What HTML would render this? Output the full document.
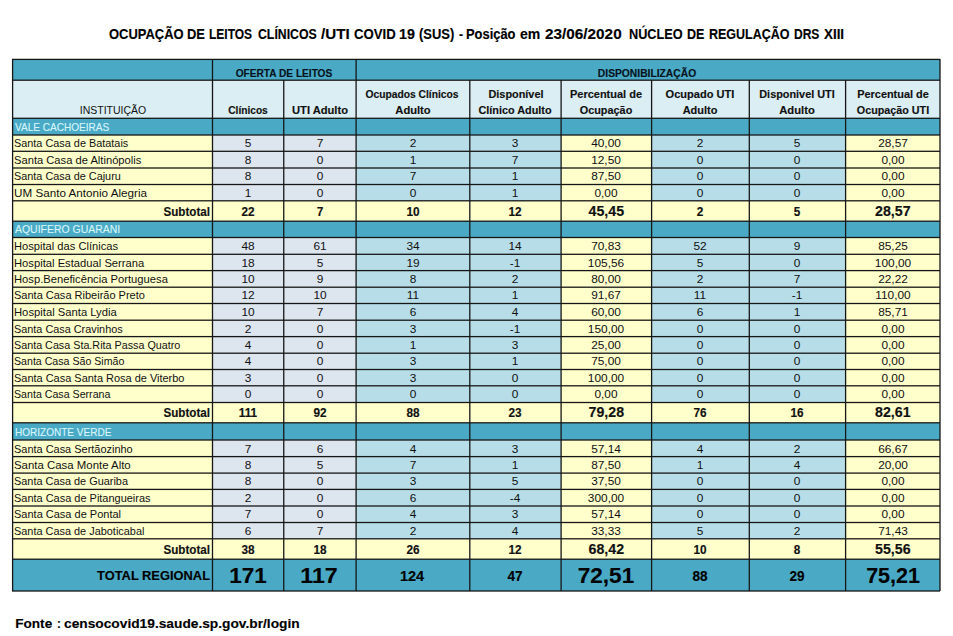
<!DOCTYPE html>
<html><head><meta charset="utf-8"><style>
html,body{margin:0;padding:0;background:#fff;width:953px;height:636px;overflow:hidden}
#c{position:relative;width:953px;height:636px}
#c div{position:absolute}
.t{font-family:"Liberation Sans", sans-serif;white-space:nowrap;line-height:normal}
</style></head><body><div id="c">
<div style="left:12.60px;top:59.40px;width:927.40px;height:20.80px;background:#4aaac5"></div>
<div style="left:12.60px;top:80.20px;width:927.40px;height:38.10px;background:#dbeef4"></div>
<div style="left:12.60px;top:118.30px;width:927.40px;height:16.70px;background:#4aaac5"></div>
<div style="left:12.60px;top:135.00px;width:199.90px;height:16.30px;background:#ffffcc"></div>
<div style="left:212.50px;top:135.00px;width:71.25px;height:16.30px;background:#dde5ef"></div>
<div style="left:283.75px;top:135.00px;width:72.35px;height:16.30px;background:#dde5ef"></div>
<div style="left:356.10px;top:135.00px;width:113.70px;height:16.30px;background:#b7dee8"></div>
<div style="left:469.80px;top:135.00px;width:91.30px;height:16.30px;background:#b7dee8"></div>
<div style="left:561.10px;top:135.00px;width:90.50px;height:16.30px;background:#ffffcc"></div>
<div style="left:651.60px;top:135.00px;width:97.70px;height:16.30px;background:#b7dee8"></div>
<div style="left:749.30px;top:135.00px;width:96.30px;height:16.30px;background:#b7dee8"></div>
<div style="left:845.60px;top:135.00px;width:94.40px;height:16.30px;background:#ffffcc"></div>
<div style="left:12.60px;top:151.30px;width:199.90px;height:16.70px;background:#ffffcc"></div>
<div style="left:212.50px;top:151.30px;width:71.25px;height:16.70px;background:#dde5ef"></div>
<div style="left:283.75px;top:151.30px;width:72.35px;height:16.70px;background:#dde5ef"></div>
<div style="left:356.10px;top:151.30px;width:113.70px;height:16.70px;background:#b7dee8"></div>
<div style="left:469.80px;top:151.30px;width:91.30px;height:16.70px;background:#b7dee8"></div>
<div style="left:561.10px;top:151.30px;width:90.50px;height:16.70px;background:#ffffcc"></div>
<div style="left:651.60px;top:151.30px;width:97.70px;height:16.70px;background:#b7dee8"></div>
<div style="left:749.30px;top:151.30px;width:96.30px;height:16.70px;background:#b7dee8"></div>
<div style="left:845.60px;top:151.30px;width:94.40px;height:16.70px;background:#ffffcc"></div>
<div style="left:12.60px;top:168.00px;width:199.90px;height:16.50px;background:#ffffcc"></div>
<div style="left:212.50px;top:168.00px;width:71.25px;height:16.50px;background:#dde5ef"></div>
<div style="left:283.75px;top:168.00px;width:72.35px;height:16.50px;background:#dde5ef"></div>
<div style="left:356.10px;top:168.00px;width:113.70px;height:16.50px;background:#b7dee8"></div>
<div style="left:469.80px;top:168.00px;width:91.30px;height:16.50px;background:#b7dee8"></div>
<div style="left:561.10px;top:168.00px;width:90.50px;height:16.50px;background:#ffffcc"></div>
<div style="left:651.60px;top:168.00px;width:97.70px;height:16.50px;background:#b7dee8"></div>
<div style="left:749.30px;top:168.00px;width:96.30px;height:16.50px;background:#b7dee8"></div>
<div style="left:845.60px;top:168.00px;width:94.40px;height:16.50px;background:#ffffcc"></div>
<div style="left:12.60px;top:184.50px;width:199.90px;height:16.30px;background:#ffffcc"></div>
<div style="left:212.50px;top:184.50px;width:71.25px;height:16.30px;background:#dde5ef"></div>
<div style="left:283.75px;top:184.50px;width:72.35px;height:16.30px;background:#dde5ef"></div>
<div style="left:356.10px;top:184.50px;width:113.70px;height:16.30px;background:#b7dee8"></div>
<div style="left:469.80px;top:184.50px;width:91.30px;height:16.30px;background:#b7dee8"></div>
<div style="left:561.10px;top:184.50px;width:90.50px;height:16.30px;background:#ffffcc"></div>
<div style="left:651.60px;top:184.50px;width:97.70px;height:16.30px;background:#b7dee8"></div>
<div style="left:749.30px;top:184.50px;width:96.30px;height:16.30px;background:#b7dee8"></div>
<div style="left:845.60px;top:184.50px;width:94.40px;height:16.30px;background:#ffffcc"></div>
<div style="left:12.60px;top:200.80px;width:927.40px;height:20.40px;background:#ffffcc"></div>
<div style="left:12.60px;top:221.20px;width:927.40px;height:16.30px;background:#4aaac5"></div>
<div style="left:12.60px;top:237.50px;width:199.90px;height:16.80px;background:#ffffcc"></div>
<div style="left:212.50px;top:237.50px;width:71.25px;height:16.80px;background:#dde5ef"></div>
<div style="left:283.75px;top:237.50px;width:72.35px;height:16.80px;background:#dde5ef"></div>
<div style="left:356.10px;top:237.50px;width:113.70px;height:16.80px;background:#b7dee8"></div>
<div style="left:469.80px;top:237.50px;width:91.30px;height:16.80px;background:#b7dee8"></div>
<div style="left:561.10px;top:237.50px;width:90.50px;height:16.80px;background:#ffffcc"></div>
<div style="left:651.60px;top:237.50px;width:97.70px;height:16.80px;background:#b7dee8"></div>
<div style="left:749.30px;top:237.50px;width:96.30px;height:16.80px;background:#b7dee8"></div>
<div style="left:845.60px;top:237.50px;width:94.40px;height:16.80px;background:#ffffcc"></div>
<div style="left:12.60px;top:254.30px;width:199.90px;height:16.30px;background:#ffffcc"></div>
<div style="left:212.50px;top:254.30px;width:71.25px;height:16.30px;background:#dde5ef"></div>
<div style="left:283.75px;top:254.30px;width:72.35px;height:16.30px;background:#dde5ef"></div>
<div style="left:356.10px;top:254.30px;width:113.70px;height:16.30px;background:#b7dee8"></div>
<div style="left:469.80px;top:254.30px;width:91.30px;height:16.30px;background:#b7dee8"></div>
<div style="left:561.10px;top:254.30px;width:90.50px;height:16.30px;background:#ffffcc"></div>
<div style="left:651.60px;top:254.30px;width:97.70px;height:16.30px;background:#b7dee8"></div>
<div style="left:749.30px;top:254.30px;width:96.30px;height:16.30px;background:#b7dee8"></div>
<div style="left:845.60px;top:254.30px;width:94.40px;height:16.30px;background:#ffffcc"></div>
<div style="left:12.60px;top:270.60px;width:199.90px;height:16.60px;background:#ffffcc"></div>
<div style="left:212.50px;top:270.60px;width:71.25px;height:16.60px;background:#dde5ef"></div>
<div style="left:283.75px;top:270.60px;width:72.35px;height:16.60px;background:#dde5ef"></div>
<div style="left:356.10px;top:270.60px;width:113.70px;height:16.60px;background:#b7dee8"></div>
<div style="left:469.80px;top:270.60px;width:91.30px;height:16.60px;background:#b7dee8"></div>
<div style="left:561.10px;top:270.60px;width:90.50px;height:16.60px;background:#ffffcc"></div>
<div style="left:651.60px;top:270.60px;width:97.70px;height:16.60px;background:#b7dee8"></div>
<div style="left:749.30px;top:270.60px;width:96.30px;height:16.60px;background:#b7dee8"></div>
<div style="left:845.60px;top:270.60px;width:94.40px;height:16.60px;background:#ffffcc"></div>
<div style="left:12.60px;top:287.20px;width:199.90px;height:16.30px;background:#ffffcc"></div>
<div style="left:212.50px;top:287.20px;width:71.25px;height:16.30px;background:#dde5ef"></div>
<div style="left:283.75px;top:287.20px;width:72.35px;height:16.30px;background:#dde5ef"></div>
<div style="left:356.10px;top:287.20px;width:113.70px;height:16.30px;background:#b7dee8"></div>
<div style="left:469.80px;top:287.20px;width:91.30px;height:16.30px;background:#b7dee8"></div>
<div style="left:561.10px;top:287.20px;width:90.50px;height:16.30px;background:#ffffcc"></div>
<div style="left:651.60px;top:287.20px;width:97.70px;height:16.30px;background:#b7dee8"></div>
<div style="left:749.30px;top:287.20px;width:96.30px;height:16.30px;background:#b7dee8"></div>
<div style="left:845.60px;top:287.20px;width:94.40px;height:16.30px;background:#ffffcc"></div>
<div style="left:12.60px;top:303.50px;width:199.90px;height:16.70px;background:#ffffcc"></div>
<div style="left:212.50px;top:303.50px;width:71.25px;height:16.70px;background:#dde5ef"></div>
<div style="left:283.75px;top:303.50px;width:72.35px;height:16.70px;background:#dde5ef"></div>
<div style="left:356.10px;top:303.50px;width:113.70px;height:16.70px;background:#b7dee8"></div>
<div style="left:469.80px;top:303.50px;width:91.30px;height:16.70px;background:#b7dee8"></div>
<div style="left:561.10px;top:303.50px;width:90.50px;height:16.70px;background:#ffffcc"></div>
<div style="left:651.60px;top:303.50px;width:97.70px;height:16.70px;background:#b7dee8"></div>
<div style="left:749.30px;top:303.50px;width:96.30px;height:16.70px;background:#b7dee8"></div>
<div style="left:845.60px;top:303.50px;width:94.40px;height:16.70px;background:#ffffcc"></div>
<div style="left:12.60px;top:320.20px;width:199.90px;height:16.40px;background:#ffffcc"></div>
<div style="left:212.50px;top:320.20px;width:71.25px;height:16.40px;background:#dde5ef"></div>
<div style="left:283.75px;top:320.20px;width:72.35px;height:16.40px;background:#dde5ef"></div>
<div style="left:356.10px;top:320.20px;width:113.70px;height:16.40px;background:#b7dee8"></div>
<div style="left:469.80px;top:320.20px;width:91.30px;height:16.40px;background:#b7dee8"></div>
<div style="left:561.10px;top:320.20px;width:90.50px;height:16.40px;background:#ffffcc"></div>
<div style="left:651.60px;top:320.20px;width:97.70px;height:16.40px;background:#b7dee8"></div>
<div style="left:749.30px;top:320.20px;width:96.30px;height:16.40px;background:#b7dee8"></div>
<div style="left:845.60px;top:320.20px;width:94.40px;height:16.40px;background:#ffffcc"></div>
<div style="left:12.60px;top:336.60px;width:199.90px;height:16.60px;background:#ffffcc"></div>
<div style="left:212.50px;top:336.60px;width:71.25px;height:16.60px;background:#dde5ef"></div>
<div style="left:283.75px;top:336.60px;width:72.35px;height:16.60px;background:#dde5ef"></div>
<div style="left:356.10px;top:336.60px;width:113.70px;height:16.60px;background:#b7dee8"></div>
<div style="left:469.80px;top:336.60px;width:91.30px;height:16.60px;background:#b7dee8"></div>
<div style="left:561.10px;top:336.60px;width:90.50px;height:16.60px;background:#ffffcc"></div>
<div style="left:651.60px;top:336.60px;width:97.70px;height:16.60px;background:#b7dee8"></div>
<div style="left:749.30px;top:336.60px;width:96.30px;height:16.60px;background:#b7dee8"></div>
<div style="left:845.60px;top:336.60px;width:94.40px;height:16.60px;background:#ffffcc"></div>
<div style="left:12.60px;top:353.20px;width:199.90px;height:16.30px;background:#ffffcc"></div>
<div style="left:212.50px;top:353.20px;width:71.25px;height:16.30px;background:#dde5ef"></div>
<div style="left:283.75px;top:353.20px;width:72.35px;height:16.30px;background:#dde5ef"></div>
<div style="left:356.10px;top:353.20px;width:113.70px;height:16.30px;background:#b7dee8"></div>
<div style="left:469.80px;top:353.20px;width:91.30px;height:16.30px;background:#b7dee8"></div>
<div style="left:561.10px;top:353.20px;width:90.50px;height:16.30px;background:#ffffcc"></div>
<div style="left:651.60px;top:353.20px;width:97.70px;height:16.30px;background:#b7dee8"></div>
<div style="left:749.30px;top:353.20px;width:96.30px;height:16.30px;background:#b7dee8"></div>
<div style="left:845.60px;top:353.20px;width:94.40px;height:16.30px;background:#ffffcc"></div>
<div style="left:12.60px;top:369.50px;width:199.90px;height:16.30px;background:#ffffcc"></div>
<div style="left:212.50px;top:369.50px;width:71.25px;height:16.30px;background:#dde5ef"></div>
<div style="left:283.75px;top:369.50px;width:72.35px;height:16.30px;background:#dde5ef"></div>
<div style="left:356.10px;top:369.50px;width:113.70px;height:16.30px;background:#b7dee8"></div>
<div style="left:469.80px;top:369.50px;width:91.30px;height:16.30px;background:#b7dee8"></div>
<div style="left:561.10px;top:369.50px;width:90.50px;height:16.30px;background:#ffffcc"></div>
<div style="left:651.60px;top:369.50px;width:97.70px;height:16.30px;background:#b7dee8"></div>
<div style="left:749.30px;top:369.50px;width:96.30px;height:16.30px;background:#b7dee8"></div>
<div style="left:845.60px;top:369.50px;width:94.40px;height:16.30px;background:#ffffcc"></div>
<div style="left:12.60px;top:385.80px;width:199.90px;height:16.70px;background:#ffffcc"></div>
<div style="left:212.50px;top:385.80px;width:71.25px;height:16.70px;background:#dde5ef"></div>
<div style="left:283.75px;top:385.80px;width:72.35px;height:16.70px;background:#dde5ef"></div>
<div style="left:356.10px;top:385.80px;width:113.70px;height:16.70px;background:#b7dee8"></div>
<div style="left:469.80px;top:385.80px;width:91.30px;height:16.70px;background:#b7dee8"></div>
<div style="left:561.10px;top:385.80px;width:90.50px;height:16.70px;background:#ffffcc"></div>
<div style="left:651.60px;top:385.80px;width:97.70px;height:16.70px;background:#b7dee8"></div>
<div style="left:749.30px;top:385.80px;width:96.30px;height:16.70px;background:#b7dee8"></div>
<div style="left:845.60px;top:385.80px;width:94.40px;height:16.70px;background:#ffffcc"></div>
<div style="left:12.60px;top:402.50px;width:927.40px;height:20.30px;background:#ffffcc"></div>
<div style="left:12.60px;top:422.80px;width:927.40px;height:17.20px;background:#4aaac5"></div>
<div style="left:12.60px;top:440.00px;width:199.90px;height:16.60px;background:#ffffcc"></div>
<div style="left:212.50px;top:440.00px;width:71.25px;height:16.60px;background:#dde5ef"></div>
<div style="left:283.75px;top:440.00px;width:72.35px;height:16.60px;background:#dde5ef"></div>
<div style="left:356.10px;top:440.00px;width:113.70px;height:16.60px;background:#b7dee8"></div>
<div style="left:469.80px;top:440.00px;width:91.30px;height:16.60px;background:#b7dee8"></div>
<div style="left:561.10px;top:440.00px;width:90.50px;height:16.60px;background:#ffffcc"></div>
<div style="left:651.60px;top:440.00px;width:97.70px;height:16.60px;background:#b7dee8"></div>
<div style="left:749.30px;top:440.00px;width:96.30px;height:16.60px;background:#b7dee8"></div>
<div style="left:845.60px;top:440.00px;width:94.40px;height:16.60px;background:#ffffcc"></div>
<div style="left:12.60px;top:456.60px;width:199.90px;height:16.50px;background:#ffffcc"></div>
<div style="left:212.50px;top:456.60px;width:71.25px;height:16.50px;background:#dde5ef"></div>
<div style="left:283.75px;top:456.60px;width:72.35px;height:16.50px;background:#dde5ef"></div>
<div style="left:356.10px;top:456.60px;width:113.70px;height:16.50px;background:#b7dee8"></div>
<div style="left:469.80px;top:456.60px;width:91.30px;height:16.50px;background:#b7dee8"></div>
<div style="left:561.10px;top:456.60px;width:90.50px;height:16.50px;background:#ffffcc"></div>
<div style="left:651.60px;top:456.60px;width:97.70px;height:16.50px;background:#b7dee8"></div>
<div style="left:749.30px;top:456.60px;width:96.30px;height:16.50px;background:#b7dee8"></div>
<div style="left:845.60px;top:456.60px;width:94.40px;height:16.50px;background:#ffffcc"></div>
<div style="left:12.60px;top:473.10px;width:199.90px;height:16.30px;background:#ffffcc"></div>
<div style="left:212.50px;top:473.10px;width:71.25px;height:16.30px;background:#dde5ef"></div>
<div style="left:283.75px;top:473.10px;width:72.35px;height:16.30px;background:#dde5ef"></div>
<div style="left:356.10px;top:473.10px;width:113.70px;height:16.30px;background:#b7dee8"></div>
<div style="left:469.80px;top:473.10px;width:91.30px;height:16.30px;background:#b7dee8"></div>
<div style="left:561.10px;top:473.10px;width:90.50px;height:16.30px;background:#ffffcc"></div>
<div style="left:651.60px;top:473.10px;width:97.70px;height:16.30px;background:#b7dee8"></div>
<div style="left:749.30px;top:473.10px;width:96.30px;height:16.30px;background:#b7dee8"></div>
<div style="left:845.60px;top:473.10px;width:94.40px;height:16.30px;background:#ffffcc"></div>
<div style="left:12.60px;top:489.40px;width:199.90px;height:16.60px;background:#ffffcc"></div>
<div style="left:212.50px;top:489.40px;width:71.25px;height:16.60px;background:#dde5ef"></div>
<div style="left:283.75px;top:489.40px;width:72.35px;height:16.60px;background:#dde5ef"></div>
<div style="left:356.10px;top:489.40px;width:113.70px;height:16.60px;background:#b7dee8"></div>
<div style="left:469.80px;top:489.40px;width:91.30px;height:16.60px;background:#b7dee8"></div>
<div style="left:561.10px;top:489.40px;width:90.50px;height:16.60px;background:#ffffcc"></div>
<div style="left:651.60px;top:489.40px;width:97.70px;height:16.60px;background:#b7dee8"></div>
<div style="left:749.30px;top:489.40px;width:96.30px;height:16.60px;background:#b7dee8"></div>
<div style="left:845.60px;top:489.40px;width:94.40px;height:16.60px;background:#ffffcc"></div>
<div style="left:12.60px;top:506.00px;width:199.90px;height:16.50px;background:#ffffcc"></div>
<div style="left:212.50px;top:506.00px;width:71.25px;height:16.50px;background:#dde5ef"></div>
<div style="left:283.75px;top:506.00px;width:72.35px;height:16.50px;background:#dde5ef"></div>
<div style="left:356.10px;top:506.00px;width:113.70px;height:16.50px;background:#b7dee8"></div>
<div style="left:469.80px;top:506.00px;width:91.30px;height:16.50px;background:#b7dee8"></div>
<div style="left:561.10px;top:506.00px;width:90.50px;height:16.50px;background:#ffffcc"></div>
<div style="left:651.60px;top:506.00px;width:97.70px;height:16.50px;background:#b7dee8"></div>
<div style="left:749.30px;top:506.00px;width:96.30px;height:16.50px;background:#b7dee8"></div>
<div style="left:845.60px;top:506.00px;width:94.40px;height:16.50px;background:#ffffcc"></div>
<div style="left:12.60px;top:522.50px;width:199.90px;height:16.30px;background:#ffffcc"></div>
<div style="left:212.50px;top:522.50px;width:71.25px;height:16.30px;background:#dde5ef"></div>
<div style="left:283.75px;top:522.50px;width:72.35px;height:16.30px;background:#dde5ef"></div>
<div style="left:356.10px;top:522.50px;width:113.70px;height:16.30px;background:#b7dee8"></div>
<div style="left:469.80px;top:522.50px;width:91.30px;height:16.30px;background:#b7dee8"></div>
<div style="left:561.10px;top:522.50px;width:90.50px;height:16.30px;background:#ffffcc"></div>
<div style="left:651.60px;top:522.50px;width:97.70px;height:16.30px;background:#b7dee8"></div>
<div style="left:749.30px;top:522.50px;width:96.30px;height:16.30px;background:#b7dee8"></div>
<div style="left:845.60px;top:522.50px;width:94.40px;height:16.30px;background:#ffffcc"></div>
<div style="left:12.60px;top:538.80px;width:927.40px;height:20.40px;background:#ffffcc"></div>
<div style="left:12.60px;top:559.20px;width:927.40px;height:31.80px;background:#4aaac5"></div>
<div style="left:12.10px;top:58px;width:928.40px;height:1px;background:rgba(22,22,22,0.250)"></div>
<div style="left:12.10px;top:59px;width:928.40px;height:1px;background:rgba(22,22,22,1.000)"></div>
<div style="left:12.10px;top:60px;width:928.40px;height:1px;background:rgba(22,22,22,0.050)"></div>
<div style="left:12.10px;top:79px;width:928.40px;height:1px;background:rgba(22,22,22,0.450)"></div>
<div style="left:12.10px;top:80px;width:928.40px;height:1px;background:rgba(22,22,22,0.850)"></div>
<div style="left:12.10px;top:117px;width:928.40px;height:1px;background:rgba(22,22,22,0.350)"></div>
<div style="left:12.10px;top:118px;width:928.40px;height:1px;background:rgba(22,22,22,0.950)"></div>
<div style="left:12.10px;top:134px;width:928.40px;height:1px;background:rgba(22,22,22,0.650)"></div>
<div style="left:12.10px;top:135px;width:928.40px;height:1px;background:rgba(22,22,22,0.650)"></div>
<div style="left:12.10px;top:150px;width:928.40px;height:1px;background:rgba(22,22,22,0.350)"></div>
<div style="left:12.10px;top:151px;width:928.40px;height:1px;background:rgba(22,22,22,0.950)"></div>
<div style="left:12.10px;top:167px;width:928.40px;height:1px;background:rgba(22,22,22,0.650)"></div>
<div style="left:12.10px;top:168px;width:928.40px;height:1px;background:rgba(22,22,22,0.650)"></div>
<div style="left:12.10px;top:183px;width:928.40px;height:1px;background:rgba(22,22,22,0.150)"></div>
<div style="left:12.10px;top:184px;width:928.40px;height:1px;background:rgba(22,22,22,1.000)"></div>
<div style="left:12.10px;top:185px;width:928.40px;height:1px;background:rgba(22,22,22,0.150)"></div>
<div style="left:12.10px;top:200px;width:928.40px;height:1px;background:rgba(22,22,22,0.850)"></div>
<div style="left:12.10px;top:201px;width:928.40px;height:1px;background:rgba(22,22,22,0.450)"></div>
<div style="left:12.10px;top:220px;width:928.40px;height:1px;background:rgba(22,22,22,0.450)"></div>
<div style="left:12.10px;top:221px;width:928.40px;height:1px;background:rgba(22,22,22,0.850)"></div>
<div style="left:12.10px;top:236px;width:928.40px;height:1px;background:rgba(22,22,22,0.150)"></div>
<div style="left:12.10px;top:237px;width:928.40px;height:1px;background:rgba(22,22,22,1.000)"></div>
<div style="left:12.10px;top:238px;width:928.40px;height:1px;background:rgba(22,22,22,0.150)"></div>
<div style="left:12.10px;top:253px;width:928.40px;height:1px;background:rgba(22,22,22,0.350)"></div>
<div style="left:12.10px;top:254px;width:928.40px;height:1px;background:rgba(22,22,22,0.950)"></div>
<div style="left:12.10px;top:269px;width:928.40px;height:1px;background:rgba(22,22,22,0.050)"></div>
<div style="left:12.10px;top:270px;width:928.40px;height:1px;background:rgba(22,22,22,1.000)"></div>
<div style="left:12.10px;top:271px;width:928.40px;height:1px;background:rgba(22,22,22,0.250)"></div>
<div style="left:12.10px;top:286px;width:928.40px;height:1px;background:rgba(22,22,22,0.450)"></div>
<div style="left:12.10px;top:287px;width:928.40px;height:1px;background:rgba(22,22,22,0.850)"></div>
<div style="left:12.10px;top:302px;width:928.40px;height:1px;background:rgba(22,22,22,0.150)"></div>
<div style="left:12.10px;top:303px;width:928.40px;height:1px;background:rgba(22,22,22,1.000)"></div>
<div style="left:12.10px;top:304px;width:928.40px;height:1px;background:rgba(22,22,22,0.150)"></div>
<div style="left:12.10px;top:319px;width:928.40px;height:1px;background:rgba(22,22,22,0.450)"></div>
<div style="left:12.10px;top:320px;width:928.40px;height:1px;background:rgba(22,22,22,0.850)"></div>
<div style="left:12.10px;top:335px;width:928.40px;height:1px;background:rgba(22,22,22,0.050)"></div>
<div style="left:12.10px;top:336px;width:928.40px;height:1px;background:rgba(22,22,22,1.000)"></div>
<div style="left:12.10px;top:337px;width:928.40px;height:1px;background:rgba(22,22,22,0.250)"></div>
<div style="left:12.10px;top:352px;width:928.40px;height:1px;background:rgba(22,22,22,0.450)"></div>
<div style="left:12.10px;top:353px;width:928.40px;height:1px;background:rgba(22,22,22,0.850)"></div>
<div style="left:12.10px;top:368px;width:928.40px;height:1px;background:rgba(22,22,22,0.150)"></div>
<div style="left:12.10px;top:369px;width:928.40px;height:1px;background:rgba(22,22,22,1.000)"></div>
<div style="left:12.10px;top:370px;width:928.40px;height:1px;background:rgba(22,22,22,0.150)"></div>
<div style="left:12.10px;top:385px;width:928.40px;height:1px;background:rgba(22,22,22,0.850)"></div>
<div style="left:12.10px;top:386px;width:928.40px;height:1px;background:rgba(22,22,22,0.450)"></div>
<div style="left:12.10px;top:401px;width:928.40px;height:1px;background:rgba(22,22,22,0.150)"></div>
<div style="left:12.10px;top:402px;width:928.40px;height:1px;background:rgba(22,22,22,1.000)"></div>
<div style="left:12.10px;top:403px;width:928.40px;height:1px;background:rgba(22,22,22,0.150)"></div>
<div style="left:12.10px;top:422px;width:928.40px;height:1px;background:rgba(22,22,22,0.850)"></div>
<div style="left:12.10px;top:423px;width:928.40px;height:1px;background:rgba(22,22,22,0.450)"></div>
<div style="left:12.10px;top:439px;width:928.40px;height:1px;background:rgba(22,22,22,0.650)"></div>
<div style="left:12.10px;top:440px;width:928.40px;height:1px;background:rgba(22,22,22,0.650)"></div>
<div style="left:12.10px;top:455px;width:928.40px;height:1px;background:rgba(22,22,22,0.050)"></div>
<div style="left:12.10px;top:456px;width:928.40px;height:1px;background:rgba(22,22,22,1.000)"></div>
<div style="left:12.10px;top:457px;width:928.40px;height:1px;background:rgba(22,22,22,0.250)"></div>
<div style="left:12.10px;top:472px;width:928.40px;height:1px;background:rgba(22,22,22,0.550)"></div>
<div style="left:12.10px;top:473px;width:928.40px;height:1px;background:rgba(22,22,22,0.750)"></div>
<div style="left:12.10px;top:488px;width:928.40px;height:1px;background:rgba(22,22,22,0.250)"></div>
<div style="left:12.10px;top:489px;width:928.40px;height:1px;background:rgba(22,22,22,1.000)"></div>
<div style="left:12.10px;top:490px;width:928.40px;height:1px;background:rgba(22,22,22,0.050)"></div>
<div style="left:12.10px;top:505px;width:928.40px;height:1px;background:rgba(22,22,22,0.650)"></div>
<div style="left:12.10px;top:506px;width:928.40px;height:1px;background:rgba(22,22,22,0.650)"></div>
<div style="left:12.10px;top:521px;width:928.40px;height:1px;background:rgba(22,22,22,0.150)"></div>
<div style="left:12.10px;top:522px;width:928.40px;height:1px;background:rgba(22,22,22,1.000)"></div>
<div style="left:12.10px;top:523px;width:928.40px;height:1px;background:rgba(22,22,22,0.150)"></div>
<div style="left:12.10px;top:538px;width:928.40px;height:1px;background:rgba(22,22,22,0.850)"></div>
<div style="left:12.10px;top:539px;width:928.40px;height:1px;background:rgba(22,22,22,0.450)"></div>
<div style="left:12.10px;top:558px;width:928.40px;height:1px;background:rgba(22,22,22,0.450)"></div>
<div style="left:12.10px;top:559px;width:928.40px;height:1px;background:rgba(22,22,22,0.850)"></div>
<div style="left:12.10px;top:590px;width:928.40px;height:1px;background:rgba(22,22,22,0.650)"></div>
<div style="left:12.10px;top:591px;width:928.40px;height:1px;background:rgba(22,22,22,0.650)"></div>
<div style="left:11px;top:58.90px;width:1px;height:532.60px;background:rgba(22,22,22,0.050)"></div>
<div style="left:12px;top:58.90px;width:1px;height:532.60px;background:rgba(22,22,22,1.000)"></div>
<div style="left:13px;top:58.90px;width:1px;height:532.60px;background:rgba(22,22,22,0.250)"></div>
<div style="left:211px;top:58.90px;width:1px;height:532.60px;background:rgba(22,22,22,0.150)"></div>
<div style="left:212px;top:58.90px;width:1px;height:532.60px;background:rgba(22,22,22,1.000)"></div>
<div style="left:213px;top:58.90px;width:1px;height:532.60px;background:rgba(22,22,22,0.150)"></div>
<div style="left:355px;top:58.90px;width:1px;height:532.60px;background:rgba(22,22,22,0.550)"></div>
<div style="left:356px;top:58.90px;width:1px;height:532.60px;background:rgba(22,22,22,0.750)"></div>
<div style="left:939px;top:58.90px;width:1px;height:532.60px;background:rgba(22,22,22,0.650)"></div>
<div style="left:940px;top:58.90px;width:1px;height:532.60px;background:rgba(22,22,22,0.650)"></div>
<div style="left:283px;top:79.70px;width:1px;height:511.80px;background:rgba(22,22,22,0.900)"></div>
<div style="left:284px;top:79.70px;width:1px;height:511.80px;background:rgba(22,22,22,0.400)"></div>
<div style="left:469px;top:79.70px;width:1px;height:511.80px;background:rgba(22,22,22,0.850)"></div>
<div style="left:470px;top:79.70px;width:1px;height:511.80px;background:rgba(22,22,22,0.450)"></div>
<div style="left:560px;top:79.70px;width:1px;height:511.80px;background:rgba(22,22,22,0.550)"></div>
<div style="left:561px;top:79.70px;width:1px;height:511.80px;background:rgba(22,22,22,0.750)"></div>
<div style="left:650px;top:79.70px;width:1px;height:511.80px;background:rgba(22,22,22,0.050)"></div>
<div style="left:651px;top:79.70px;width:1px;height:511.80px;background:rgba(22,22,22,1.000)"></div>
<div style="left:652px;top:79.70px;width:1px;height:511.80px;background:rgba(22,22,22,0.250)"></div>
<div style="left:748px;top:79.70px;width:1px;height:511.80px;background:rgba(22,22,22,0.350)"></div>
<div style="left:749px;top:79.70px;width:1px;height:511.80px;background:rgba(22,22,22,0.950)"></div>
<div style="left:844px;top:79.70px;width:1px;height:511.80px;background:rgba(22,22,22,0.050)"></div>
<div style="left:845px;top:79.70px;width:1px;height:511.80px;background:rgba(22,22,22,1.000)"></div>
<div style="left:846px;top:79.70px;width:1px;height:511.80px;background:rgba(22,22,22,0.250)"></div>
<div class="t" style="left:108.70px;top:26.00px;width:700px;text-align:left;font-size:14px;font-weight:700;color:#000000;transform:scaleX(0.9250);transform-origin:0 0;-webkit-text-stroke:0.15px #000000;">OCUPAÇÃO</div>
<div class="t" style="left:186.95px;top:26.00px;width:700px;text-align:left;font-size:14px;font-weight:700;color:#000000;transform:scaleX(0.9239);transform-origin:0 0;-webkit-text-stroke:0.15px #000000;">DE</div>
<div class="t" style="left:209.20px;top:26.00px;width:700px;text-align:left;font-size:14px;font-weight:700;color:#000000;transform:scaleX(0.8566);transform-origin:0 0;-webkit-text-stroke:0.15px #000000;">LEITOS</div>
<div class="t" style="left:257.95px;top:26.00px;width:700px;text-align:left;font-size:14px;font-weight:700;color:#000000;transform:scaleX(0.8775);transform-origin:0 0;-webkit-text-stroke:0.15px #000000;">CLÍNICOS</div>
<div class="t" style="left:321.35px;top:26.00px;width:700px;text-align:left;font-size:14px;font-weight:700;color:#000000;transform:scaleX(1.0839);transform-origin:0 0;-webkit-text-stroke:0.15px #000000;">/UTI</div>
<div class="t" style="left:354.35px;top:26.00px;width:700px;text-align:left;font-size:14px;font-weight:700;color:#000000;transform:scaleX(0.9389);transform-origin:0 0;-webkit-text-stroke:0.15px #000000;">COVID</div>
<div class="t" style="left:399.20px;top:26.00px;width:700px;text-align:left;font-size:14px;font-weight:700;color:#000000;transform:scaleX(1.0197);transform-origin:0 0;-webkit-text-stroke:0.15px #000000;">19</div>
<div class="t" style="left:419.00px;top:26.00px;width:700px;text-align:left;font-size:14px;font-weight:700;color:#000000;transform:scaleX(0.9234);transform-origin:0 0;-webkit-text-stroke:0.15px #000000;">(SUS)</div>
<div class="t" style="left:458.75px;top:26.00px;width:700px;text-align:left;font-size:14px;font-weight:700;color:#000000;transform:scaleX(0.8577);transform-origin:0 0;-webkit-text-stroke:0.15px #000000;">-</div>
<div class="t" style="left:465.80px;top:26.00px;width:700px;text-align:left;font-size:14px;font-weight:700;color:#000000;transform:scaleX(0.9217);transform-origin:0 0;-webkit-text-stroke:0.15px #000000;">Posição</div>
<div class="t" style="left:519.90px;top:26.00px;width:700px;text-align:left;font-size:14px;font-weight:700;color:#000000;transform:scaleX(1.0016);transform-origin:0 0;-webkit-text-stroke:0.15px #000000;">em</div>
<div class="t" style="left:544.50px;top:26.00px;width:700px;text-align:left;font-size:14px;font-weight:700;color:#000000;transform:scaleX(1.0941);transform-origin:0 0;-webkit-text-stroke:0.15px #000000;">23/06/2020</div>
<div class="t" style="left:629.00px;top:26.00px;width:700px;text-align:left;font-size:14px;font-weight:700;color:#000000;transform:scaleX(0.9070);transform-origin:0 0;-webkit-text-stroke:0.15px #000000;">NÚCLEO</div>
<div class="t" style="left:687.20px;top:26.00px;width:700px;text-align:left;font-size:14px;font-weight:700;color:#000000;transform:scaleX(0.8955);transform-origin:0 0;-webkit-text-stroke:0.15px #000000;">DE</div>
<div class="t" style="left:708.60px;top:26.00px;width:700px;text-align:left;font-size:14px;font-weight:700;color:#000000;transform:scaleX(0.8927);transform-origin:0 0;-webkit-text-stroke:0.15px #000000;">REGULAÇÃO</div>
<div class="t" style="left:794.00px;top:26.00px;width:700px;text-align:left;font-size:14px;font-weight:700;color:#000000;transform:scaleX(0.8586);transform-origin:0 0;-webkit-text-stroke:0.15px #000000;">DRS</div>
<div class="t" style="left:823.90px;top:26.00px;width:700px;text-align:left;font-size:14px;font-weight:700;color:#000000;transform:scaleX(0.9559);transform-origin:0 0;-webkit-text-stroke:0.15px #000000;">XIII</div>
<div class="t" style="left:-66.40px;top:67.00px;width:700px;text-align:center;font-size:10.8px;font-weight:700;color:#06121c;transform:scaleX(0.9372);transform-origin:50% 0;-webkit-text-stroke:0.15px #06121c;">OFERTA DE LEITOS</div>
<div class="t" style="left:296.82px;top:67.00px;width:700px;text-align:center;font-size:10.8px;font-weight:700;color:#06121c;transform:scaleX(0.9526);transform-origin:50% 0;-webkit-text-stroke:0.15px #06121c;">DISPONIBILIZAÇÃO</div>
<div class="t" style="left:-237.38px;top:104.00px;width:700px;text-align:center;font-size:10.8px;font-weight:400;color:#111111;transform:scaleX(0.9713);transform-origin:50% 0;">INSTITUIÇÃO</div>
<div class="t" style="left:-101.66px;top:104.00px;width:700px;text-align:center;font-size:10.8px;font-weight:700;color:#111111;transform:scaleX(0.9420);transform-origin:50% 0;-webkit-text-stroke:0.15px #111111;">Clínicos</div>
<div class="t" style="left:-30.50px;top:104.00px;width:700px;text-align:center;font-size:10.8px;font-weight:700;color:#111111;transform:scaleX(1.0329);transform-origin:50% 0;-webkit-text-stroke:0.15px #111111;">UTI Adulto</div>
<div class="t" style="left:62.39px;top:88.00px;width:700px;text-align:center;font-size:10.8px;font-weight:700;color:#111111;transform:scaleX(0.9519);transform-origin:50% 0;-webkit-text-stroke:0.15px #111111;">Ocupados Clínicos</div>
<div class="t" style="left:62.88px;top:104.00px;width:700px;text-align:center;font-size:10.8px;font-weight:700;color:#111111;transform:scaleX(1.0333);transform-origin:50% 0;-webkit-text-stroke:0.15px #111111;">Adulto</div>
<div class="t" style="left:165.66px;top:88.00px;width:700px;text-align:center;font-size:10.8px;font-weight:700;color:#111111;transform:scaleX(1.0076);transform-origin:50% 0;-webkit-text-stroke:0.15px #111111;">Disponível</div>
<div class="t" style="left:165.45px;top:104.00px;width:700px;text-align:center;font-size:10.8px;font-weight:700;color:#111111;transform:scaleX(1.0060);transform-origin:50% 0;-webkit-text-stroke:0.15px #111111;">Clínico Adulto</div>
<div class="t" style="left:255.93px;top:88.00px;width:700px;text-align:center;font-size:10.8px;font-weight:700;color:#111111;transform:scaleX(1.0181);transform-origin:50% 0;-webkit-text-stroke:0.15px #111111;">Percentual de</div>
<div class="t" style="left:256.28px;top:104.00px;width:700px;text-align:center;font-size:10.8px;font-weight:700;color:#111111;transform:scaleX(1.0072);transform-origin:50% 0;-webkit-text-stroke:0.15px #111111;">Ocupação</div>
<div class="t" style="left:350.10px;top:88.00px;width:700px;text-align:center;font-size:10.8px;font-weight:700;color:#111111;transform:scaleX(1.0238);transform-origin:50% 0;-webkit-text-stroke:0.15px #111111;">Ocupado UTI</div>
<div class="t" style="left:349.89px;top:104.00px;width:700px;text-align:center;font-size:10.8px;font-weight:700;color:#111111;transform:scaleX(1.0133);transform-origin:50% 0;-webkit-text-stroke:0.15px #111111;">Adulto</div>
<div class="t" style="left:447.17px;top:88.00px;width:700px;text-align:center;font-size:10.8px;font-weight:700;color:#111111;transform:scaleX(1.0058);transform-origin:50% 0;-webkit-text-stroke:0.15px #111111;">Disponivel UTI</div>
<div class="t" style="left:447.17px;top:104.00px;width:700px;text-align:center;font-size:10.8px;font-weight:700;color:#111111;transform:scaleX(1.0394);transform-origin:50% 0;-webkit-text-stroke:0.15px #111111;">Adulto</div>
<div class="t" style="left:542.52px;top:88.00px;width:700px;text-align:center;font-size:10.8px;font-weight:700;color:#111111;transform:scaleX(1.0106);transform-origin:50% 0;-webkit-text-stroke:0.15px #111111;">Percentual de</div>
<div class="t" style="left:543.01px;top:104.00px;width:700px;text-align:center;font-size:10.8px;font-weight:700;color:#111111;transform:scaleX(0.9959);transform-origin:50% 0;-webkit-text-stroke:0.15px #111111;">Ocupação UTI</div>
<div class="t" style="left:14.60px;top:121.00px;width:700px;text-align:left;font-size:10.6px;font-weight:400;color:#d8f6fc;transform:scaleX(0.9478);transform-origin:0 0;-webkit-text-stroke:0.12px #d8f6fc;">VALE CACHOEIRAS</div>
<div class="t" style="left:14.30px;top:137.00px;width:700px;text-align:left;font-size:10.6px;font-weight:400;color:#111111;transform:scaleX(1.0265);transform-origin:0 0;">Santa Casa de Batatais</div>
<div class="t" style="left:-101.88px;top:137.00px;width:700px;text-align:center;font-size:10.6px;font-weight:400;color:#111111;transform:scaleX(1.1200);transform-origin:50% 0;">5</div>
<div class="t" style="left:-30.07px;top:137.00px;width:700px;text-align:center;font-size:10.6px;font-weight:400;color:#111111;transform:scaleX(1.1200);transform-origin:50% 0;">7</div>
<div class="t" style="left:62.95px;top:137.00px;width:700px;text-align:center;font-size:10.6px;font-weight:400;color:#111111;transform:scaleX(1.1200);transform-origin:50% 0;">2</div>
<div class="t" style="left:165.45px;top:137.00px;width:700px;text-align:center;font-size:10.6px;font-weight:400;color:#111111;transform:scaleX(1.1200);transform-origin:50% 0;">3</div>
<div class="t" style="left:256.35px;top:137.00px;width:700px;text-align:center;font-size:10.6px;font-weight:400;color:#111111;transform:scaleX(1.1200);transform-origin:50% 0;">40,00</div>
<div class="t" style="left:350.45px;top:137.00px;width:700px;text-align:center;font-size:10.6px;font-weight:400;color:#111111;transform:scaleX(1.1200);transform-origin:50% 0;">2</div>
<div class="t" style="left:447.45px;top:137.00px;width:700px;text-align:center;font-size:10.6px;font-weight:400;color:#111111;transform:scaleX(1.1200);transform-origin:50% 0;">5</div>
<div class="t" style="left:542.80px;top:137.00px;width:700px;text-align:center;font-size:10.6px;font-weight:400;color:#111111;transform:scaleX(1.1200);transform-origin:50% 0;">28,57</div>
<div class="t" style="left:14.30px;top:154.00px;width:700px;text-align:left;font-size:10.6px;font-weight:400;color:#111111;transform:scaleX(1.0547);transform-origin:0 0;">Santa Casa de Altinópolis</div>
<div class="t" style="left:-101.88px;top:154.00px;width:700px;text-align:center;font-size:10.6px;font-weight:400;color:#111111;transform:scaleX(1.1200);transform-origin:50% 0;">8</div>
<div class="t" style="left:-30.07px;top:154.00px;width:700px;text-align:center;font-size:10.6px;font-weight:400;color:#111111;transform:scaleX(1.1200);transform-origin:50% 0;">0</div>
<div class="t" style="left:62.95px;top:154.00px;width:700px;text-align:center;font-size:10.6px;font-weight:400;color:#111111;transform:scaleX(1.1200);transform-origin:50% 0;">1</div>
<div class="t" style="left:165.45px;top:154.00px;width:700px;text-align:center;font-size:10.6px;font-weight:400;color:#111111;transform:scaleX(1.1200);transform-origin:50% 0;">7</div>
<div class="t" style="left:256.35px;top:154.00px;width:700px;text-align:center;font-size:10.6px;font-weight:400;color:#111111;transform:scaleX(1.1200);transform-origin:50% 0;">12,50</div>
<div class="t" style="left:350.45px;top:154.00px;width:700px;text-align:center;font-size:10.6px;font-weight:400;color:#111111;transform:scaleX(1.1200);transform-origin:50% 0;">0</div>
<div class="t" style="left:447.45px;top:154.00px;width:700px;text-align:center;font-size:10.6px;font-weight:400;color:#111111;transform:scaleX(1.1200);transform-origin:50% 0;">0</div>
<div class="t" style="left:542.80px;top:154.00px;width:700px;text-align:center;font-size:10.6px;font-weight:400;color:#111111;transform:scaleX(1.1200);transform-origin:50% 0;">0,00</div>
<div class="t" style="left:14.30px;top:170.00px;width:700px;text-align:left;font-size:10.6px;font-weight:400;color:#111111;transform:scaleX(1.0244);transform-origin:0 0;">Santa Casa de Cajuru</div>
<div class="t" style="left:-101.88px;top:170.00px;width:700px;text-align:center;font-size:10.6px;font-weight:400;color:#111111;transform:scaleX(1.1200);transform-origin:50% 0;">8</div>
<div class="t" style="left:-30.07px;top:170.00px;width:700px;text-align:center;font-size:10.6px;font-weight:400;color:#111111;transform:scaleX(1.1200);transform-origin:50% 0;">0</div>
<div class="t" style="left:62.95px;top:170.00px;width:700px;text-align:center;font-size:10.6px;font-weight:400;color:#111111;transform:scaleX(1.1200);transform-origin:50% 0;">7</div>
<div class="t" style="left:165.45px;top:170.00px;width:700px;text-align:center;font-size:10.6px;font-weight:400;color:#111111;transform:scaleX(1.1200);transform-origin:50% 0;">1</div>
<div class="t" style="left:256.35px;top:170.00px;width:700px;text-align:center;font-size:10.6px;font-weight:400;color:#111111;transform:scaleX(1.1200);transform-origin:50% 0;">87,50</div>
<div class="t" style="left:350.45px;top:170.00px;width:700px;text-align:center;font-size:10.6px;font-weight:400;color:#111111;transform:scaleX(1.1200);transform-origin:50% 0;">0</div>
<div class="t" style="left:447.45px;top:170.00px;width:700px;text-align:center;font-size:10.6px;font-weight:400;color:#111111;transform:scaleX(1.1200);transform-origin:50% 0;">0</div>
<div class="t" style="left:542.80px;top:170.00px;width:700px;text-align:center;font-size:10.6px;font-weight:400;color:#111111;transform:scaleX(1.1200);transform-origin:50% 0;">0,00</div>
<div class="t" style="left:14.30px;top:187.00px;width:700px;text-align:left;font-size:10.6px;font-weight:400;color:#111111;transform:scaleX(1.1015);transform-origin:0 0;">UM Santo Antonio Alegria</div>
<div class="t" style="left:-101.88px;top:187.00px;width:700px;text-align:center;font-size:10.6px;font-weight:400;color:#111111;transform:scaleX(1.1200);transform-origin:50% 0;">1</div>
<div class="t" style="left:-30.07px;top:187.00px;width:700px;text-align:center;font-size:10.6px;font-weight:400;color:#111111;transform:scaleX(1.1200);transform-origin:50% 0;">0</div>
<div class="t" style="left:62.95px;top:187.00px;width:700px;text-align:center;font-size:10.6px;font-weight:400;color:#111111;transform:scaleX(1.1200);transform-origin:50% 0;">0</div>
<div class="t" style="left:165.45px;top:187.00px;width:700px;text-align:center;font-size:10.6px;font-weight:400;color:#111111;transform:scaleX(1.1200);transform-origin:50% 0;">1</div>
<div class="t" style="left:256.35px;top:187.00px;width:700px;text-align:center;font-size:10.6px;font-weight:400;color:#111111;transform:scaleX(1.1200);transform-origin:50% 0;">0,00</div>
<div class="t" style="left:350.45px;top:187.00px;width:700px;text-align:center;font-size:10.6px;font-weight:400;color:#111111;transform:scaleX(1.1200);transform-origin:50% 0;">0</div>
<div class="t" style="left:447.45px;top:187.00px;width:700px;text-align:center;font-size:10.6px;font-weight:400;color:#111111;transform:scaleX(1.1200);transform-origin:50% 0;">0</div>
<div class="t" style="left:542.80px;top:187.00px;width:700px;text-align:center;font-size:10.6px;font-weight:400;color:#111111;transform:scaleX(1.1200);transform-origin:50% 0;">0,00</div>
<div class="t" style="left:-489.80px;top:205.00px;width:700px;text-align:right;font-size:12.0px;font-weight:700;color:#111111;transform:scaleX(0.9700);transform-origin:100% 0;-webkit-text-stroke:0.15px #111111;">Subtotal</div>
<div class="t" style="left:-101.88px;top:205.00px;width:700px;text-align:center;font-size:12.0px;font-weight:700;color:#111111;transform:scaleX(0.9800);transform-origin:50% 0;-webkit-text-stroke:0.15px #111111;">22</div>
<div class="t" style="left:-30.07px;top:205.00px;width:700px;text-align:center;font-size:12.0px;font-weight:700;color:#111111;transform:scaleX(0.9800);transform-origin:50% 0;-webkit-text-stroke:0.15px #111111;">7</div>
<div class="t" style="left:62.95px;top:205.00px;width:700px;text-align:center;font-size:12.0px;font-weight:700;color:#111111;transform:scaleX(0.9800);transform-origin:50% 0;-webkit-text-stroke:0.15px #111111;">10</div>
<div class="t" style="left:165.45px;top:205.00px;width:700px;text-align:center;font-size:12.0px;font-weight:700;color:#111111;transform:scaleX(0.9800);transform-origin:50% 0;-webkit-text-stroke:0.15px #111111;">12</div>
<div class="t" style="left:256.35px;top:203.00px;width:700px;text-align:center;font-size:14.2px;font-weight:700;color:#111111;-webkit-text-stroke:0.15px #111111;">45,45</div>
<div class="t" style="left:350.45px;top:205.00px;width:700px;text-align:center;font-size:12.0px;font-weight:700;color:#111111;transform:scaleX(0.9800);transform-origin:50% 0;-webkit-text-stroke:0.15px #111111;">2</div>
<div class="t" style="left:447.45px;top:205.00px;width:700px;text-align:center;font-size:12.0px;font-weight:700;color:#111111;transform:scaleX(0.9800);transform-origin:50% 0;-webkit-text-stroke:0.15px #111111;">5</div>
<div class="t" style="left:542.80px;top:203.00px;width:700px;text-align:center;font-size:14.2px;font-weight:700;color:#111111;-webkit-text-stroke:0.15px #111111;">28,57</div>
<div class="t" style="left:14.60px;top:223.00px;width:700px;text-align:left;font-size:10.6px;font-weight:400;color:#d8f6fc;transform:scaleX(0.9872);transform-origin:0 0;-webkit-text-stroke:0.12px #d8f6fc;">AQUIFERO GUARANI</div>
<div class="t" style="left:14.30px;top:240.00px;width:700px;text-align:left;font-size:10.6px;font-weight:400;color:#111111;transform:scaleX(1.0512);transform-origin:0 0;">Hospital das Clínicas</div>
<div class="t" style="left:-101.88px;top:240.00px;width:700px;text-align:center;font-size:10.6px;font-weight:400;color:#111111;transform:scaleX(1.1200);transform-origin:50% 0;">48</div>
<div class="t" style="left:-30.07px;top:240.00px;width:700px;text-align:center;font-size:10.6px;font-weight:400;color:#111111;transform:scaleX(1.1200);transform-origin:50% 0;">61</div>
<div class="t" style="left:62.95px;top:240.00px;width:700px;text-align:center;font-size:10.6px;font-weight:400;color:#111111;transform:scaleX(1.1200);transform-origin:50% 0;">34</div>
<div class="t" style="left:165.45px;top:240.00px;width:700px;text-align:center;font-size:10.6px;font-weight:400;color:#111111;transform:scaleX(1.1200);transform-origin:50% 0;">14</div>
<div class="t" style="left:256.35px;top:240.00px;width:700px;text-align:center;font-size:10.6px;font-weight:400;color:#111111;transform:scaleX(1.1200);transform-origin:50% 0;">70,83</div>
<div class="t" style="left:350.45px;top:240.00px;width:700px;text-align:center;font-size:10.6px;font-weight:400;color:#111111;transform:scaleX(1.1200);transform-origin:50% 0;">52</div>
<div class="t" style="left:447.45px;top:240.00px;width:700px;text-align:center;font-size:10.6px;font-weight:400;color:#111111;transform:scaleX(1.1200);transform-origin:50% 0;">9</div>
<div class="t" style="left:542.80px;top:240.00px;width:700px;text-align:center;font-size:10.6px;font-weight:400;color:#111111;transform:scaleX(1.1200);transform-origin:50% 0;">85,25</div>
<div class="t" style="left:14.30px;top:257.00px;width:700px;text-align:left;font-size:10.6px;font-weight:400;color:#111111;transform:scaleX(1.0586);transform-origin:0 0;">Hospital Estadual Serrana</div>
<div class="t" style="left:-101.88px;top:257.00px;width:700px;text-align:center;font-size:10.6px;font-weight:400;color:#111111;transform:scaleX(1.1200);transform-origin:50% 0;">18</div>
<div class="t" style="left:-30.07px;top:257.00px;width:700px;text-align:center;font-size:10.6px;font-weight:400;color:#111111;transform:scaleX(1.1200);transform-origin:50% 0;">5</div>
<div class="t" style="left:62.95px;top:257.00px;width:700px;text-align:center;font-size:10.6px;font-weight:400;color:#111111;transform:scaleX(1.1200);transform-origin:50% 0;">19</div>
<div class="t" style="left:165.45px;top:257.00px;width:700px;text-align:center;font-size:10.6px;font-weight:400;color:#111111;transform:scaleX(1.1200);transform-origin:50% 0;">-1</div>
<div class="t" style="left:256.35px;top:257.00px;width:700px;text-align:center;font-size:10.6px;font-weight:400;color:#111111;transform:scaleX(1.1200);transform-origin:50% 0;">105,56</div>
<div class="t" style="left:350.45px;top:257.00px;width:700px;text-align:center;font-size:10.6px;font-weight:400;color:#111111;transform:scaleX(1.1200);transform-origin:50% 0;">5</div>
<div class="t" style="left:447.45px;top:257.00px;width:700px;text-align:center;font-size:10.6px;font-weight:400;color:#111111;transform:scaleX(1.1200);transform-origin:50% 0;">0</div>
<div class="t" style="left:542.80px;top:257.00px;width:700px;text-align:center;font-size:10.6px;font-weight:400;color:#111111;transform:scaleX(1.1200);transform-origin:50% 0;">100,00</div>
<div class="t" style="left:14.30px;top:273.00px;width:700px;text-align:left;font-size:10.6px;font-weight:400;color:#111111;transform:scaleX(1.0579);transform-origin:0 0;">Hosp.Beneficência Portuguesa</div>
<div class="t" style="left:-101.88px;top:273.00px;width:700px;text-align:center;font-size:10.6px;font-weight:400;color:#111111;transform:scaleX(1.1200);transform-origin:50% 0;">10</div>
<div class="t" style="left:-30.07px;top:273.00px;width:700px;text-align:center;font-size:10.6px;font-weight:400;color:#111111;transform:scaleX(1.1200);transform-origin:50% 0;">9</div>
<div class="t" style="left:62.95px;top:273.00px;width:700px;text-align:center;font-size:10.6px;font-weight:400;color:#111111;transform:scaleX(1.1200);transform-origin:50% 0;">8</div>
<div class="t" style="left:165.45px;top:273.00px;width:700px;text-align:center;font-size:10.6px;font-weight:400;color:#111111;transform:scaleX(1.1200);transform-origin:50% 0;">2</div>
<div class="t" style="left:256.35px;top:273.00px;width:700px;text-align:center;font-size:10.6px;font-weight:400;color:#111111;transform:scaleX(1.1200);transform-origin:50% 0;">80,00</div>
<div class="t" style="left:350.45px;top:273.00px;width:700px;text-align:center;font-size:10.6px;font-weight:400;color:#111111;transform:scaleX(1.1200);transform-origin:50% 0;">2</div>
<div class="t" style="left:447.45px;top:273.00px;width:700px;text-align:center;font-size:10.6px;font-weight:400;color:#111111;transform:scaleX(1.1200);transform-origin:50% 0;">7</div>
<div class="t" style="left:542.80px;top:273.00px;width:700px;text-align:center;font-size:10.6px;font-weight:400;color:#111111;transform:scaleX(1.1200);transform-origin:50% 0;">22,22</div>
<div class="t" style="left:14.30px;top:289.00px;width:700px;text-align:left;font-size:10.6px;font-weight:400;color:#111111;transform:scaleX(1.0386);transform-origin:0 0;">Santa Casa Ribeirão Preto</div>
<div class="t" style="left:-101.88px;top:289.00px;width:700px;text-align:center;font-size:10.6px;font-weight:400;color:#111111;transform:scaleX(1.1200);transform-origin:50% 0;">12</div>
<div class="t" style="left:-30.07px;top:289.00px;width:700px;text-align:center;font-size:10.6px;font-weight:400;color:#111111;transform:scaleX(1.1200);transform-origin:50% 0;">10</div>
<div class="t" style="left:62.95px;top:289.00px;width:700px;text-align:center;font-size:10.6px;font-weight:400;color:#111111;transform:scaleX(1.1200);transform-origin:50% 0;">11</div>
<div class="t" style="left:165.45px;top:289.00px;width:700px;text-align:center;font-size:10.6px;font-weight:400;color:#111111;transform:scaleX(1.1200);transform-origin:50% 0;">1</div>
<div class="t" style="left:256.35px;top:289.00px;width:700px;text-align:center;font-size:10.6px;font-weight:400;color:#111111;transform:scaleX(1.1200);transform-origin:50% 0;">91,67</div>
<div class="t" style="left:350.45px;top:289.00px;width:700px;text-align:center;font-size:10.6px;font-weight:400;color:#111111;transform:scaleX(1.1200);transform-origin:50% 0;">11</div>
<div class="t" style="left:447.45px;top:289.00px;width:700px;text-align:center;font-size:10.6px;font-weight:400;color:#111111;transform:scaleX(1.1200);transform-origin:50% 0;">-1</div>
<div class="t" style="left:542.80px;top:289.00px;width:700px;text-align:center;font-size:10.6px;font-weight:400;color:#111111;transform:scaleX(1.1200);transform-origin:50% 0;">110,00</div>
<div class="t" style="left:14.30px;top:306.00px;width:700px;text-align:left;font-size:10.6px;font-weight:400;color:#111111;transform:scaleX(1.0617);transform-origin:0 0;">Hospital Santa Lydia</div>
<div class="t" style="left:-101.88px;top:306.00px;width:700px;text-align:center;font-size:10.6px;font-weight:400;color:#111111;transform:scaleX(1.1200);transform-origin:50% 0;">10</div>
<div class="t" style="left:-30.07px;top:306.00px;width:700px;text-align:center;font-size:10.6px;font-weight:400;color:#111111;transform:scaleX(1.1200);transform-origin:50% 0;">7</div>
<div class="t" style="left:62.95px;top:306.00px;width:700px;text-align:center;font-size:10.6px;font-weight:400;color:#111111;transform:scaleX(1.1200);transform-origin:50% 0;">6</div>
<div class="t" style="left:165.45px;top:306.00px;width:700px;text-align:center;font-size:10.6px;font-weight:400;color:#111111;transform:scaleX(1.1200);transform-origin:50% 0;">4</div>
<div class="t" style="left:256.35px;top:306.00px;width:700px;text-align:center;font-size:10.6px;font-weight:400;color:#111111;transform:scaleX(1.1200);transform-origin:50% 0;">60,00</div>
<div class="t" style="left:350.45px;top:306.00px;width:700px;text-align:center;font-size:10.6px;font-weight:400;color:#111111;transform:scaleX(1.1200);transform-origin:50% 0;">6</div>
<div class="t" style="left:447.45px;top:306.00px;width:700px;text-align:center;font-size:10.6px;font-weight:400;color:#111111;transform:scaleX(1.1200);transform-origin:50% 0;">1</div>
<div class="t" style="left:542.80px;top:306.00px;width:700px;text-align:center;font-size:10.6px;font-weight:400;color:#111111;transform:scaleX(1.1200);transform-origin:50% 0;">85,71</div>
<div class="t" style="left:14.30px;top:323.00px;width:700px;text-align:left;font-size:10.6px;font-weight:400;color:#111111;transform:scaleX(1.0252);transform-origin:0 0;">Santa Casa Cravinhos</div>
<div class="t" style="left:-101.88px;top:323.00px;width:700px;text-align:center;font-size:10.6px;font-weight:400;color:#111111;transform:scaleX(1.1200);transform-origin:50% 0;">2</div>
<div class="t" style="left:-30.07px;top:323.00px;width:700px;text-align:center;font-size:10.6px;font-weight:400;color:#111111;transform:scaleX(1.1200);transform-origin:50% 0;">0</div>
<div class="t" style="left:62.95px;top:323.00px;width:700px;text-align:center;font-size:10.6px;font-weight:400;color:#111111;transform:scaleX(1.1200);transform-origin:50% 0;">3</div>
<div class="t" style="left:165.45px;top:323.00px;width:700px;text-align:center;font-size:10.6px;font-weight:400;color:#111111;transform:scaleX(1.1200);transform-origin:50% 0;">-1</div>
<div class="t" style="left:256.35px;top:323.00px;width:700px;text-align:center;font-size:10.6px;font-weight:400;color:#111111;transform:scaleX(1.1200);transform-origin:50% 0;">150,00</div>
<div class="t" style="left:350.45px;top:323.00px;width:700px;text-align:center;font-size:10.6px;font-weight:400;color:#111111;transform:scaleX(1.1200);transform-origin:50% 0;">0</div>
<div class="t" style="left:447.45px;top:323.00px;width:700px;text-align:center;font-size:10.6px;font-weight:400;color:#111111;transform:scaleX(1.1200);transform-origin:50% 0;">0</div>
<div class="t" style="left:542.80px;top:323.00px;width:700px;text-align:center;font-size:10.6px;font-weight:400;color:#111111;transform:scaleX(1.1200);transform-origin:50% 0;">0,00</div>
<div class="t" style="left:14.30px;top:339.00px;width:700px;text-align:left;font-size:10.6px;font-weight:400;color:#111111;transform:scaleX(1.0157);transform-origin:0 0;">Santa Casa Sta.Rita Passa Quatro</div>
<div class="t" style="left:-101.88px;top:339.00px;width:700px;text-align:center;font-size:10.6px;font-weight:400;color:#111111;transform:scaleX(1.1200);transform-origin:50% 0;">4</div>
<div class="t" style="left:-30.07px;top:339.00px;width:700px;text-align:center;font-size:10.6px;font-weight:400;color:#111111;transform:scaleX(1.1200);transform-origin:50% 0;">0</div>
<div class="t" style="left:62.95px;top:339.00px;width:700px;text-align:center;font-size:10.6px;font-weight:400;color:#111111;transform:scaleX(1.1200);transform-origin:50% 0;">1</div>
<div class="t" style="left:165.45px;top:339.00px;width:700px;text-align:center;font-size:10.6px;font-weight:400;color:#111111;transform:scaleX(1.1200);transform-origin:50% 0;">3</div>
<div class="t" style="left:256.35px;top:339.00px;width:700px;text-align:center;font-size:10.6px;font-weight:400;color:#111111;transform:scaleX(1.1200);transform-origin:50% 0;">25,00</div>
<div class="t" style="left:350.45px;top:339.00px;width:700px;text-align:center;font-size:10.6px;font-weight:400;color:#111111;transform:scaleX(1.1200);transform-origin:50% 0;">0</div>
<div class="t" style="left:447.45px;top:339.00px;width:700px;text-align:center;font-size:10.6px;font-weight:400;color:#111111;transform:scaleX(1.1200);transform-origin:50% 0;">0</div>
<div class="t" style="left:542.80px;top:339.00px;width:700px;text-align:center;font-size:10.6px;font-weight:400;color:#111111;transform:scaleX(1.1200);transform-origin:50% 0;">0,00</div>
<div class="t" style="left:14.30px;top:355.00px;width:700px;text-align:left;font-size:10.6px;font-weight:400;color:#111111;transform:scaleX(1.0024);transform-origin:0 0;">Santa Casa São Simão</div>
<div class="t" style="left:-101.88px;top:355.00px;width:700px;text-align:center;font-size:10.6px;font-weight:400;color:#111111;transform:scaleX(1.1200);transform-origin:50% 0;">4</div>
<div class="t" style="left:-30.07px;top:355.00px;width:700px;text-align:center;font-size:10.6px;font-weight:400;color:#111111;transform:scaleX(1.1200);transform-origin:50% 0;">0</div>
<div class="t" style="left:62.95px;top:355.00px;width:700px;text-align:center;font-size:10.6px;font-weight:400;color:#111111;transform:scaleX(1.1200);transform-origin:50% 0;">3</div>
<div class="t" style="left:165.45px;top:355.00px;width:700px;text-align:center;font-size:10.6px;font-weight:400;color:#111111;transform:scaleX(1.1200);transform-origin:50% 0;">1</div>
<div class="t" style="left:256.35px;top:355.00px;width:700px;text-align:center;font-size:10.6px;font-weight:400;color:#111111;transform:scaleX(1.1200);transform-origin:50% 0;">75,00</div>
<div class="t" style="left:350.45px;top:355.00px;width:700px;text-align:center;font-size:10.6px;font-weight:400;color:#111111;transform:scaleX(1.1200);transform-origin:50% 0;">0</div>
<div class="t" style="left:447.45px;top:355.00px;width:700px;text-align:center;font-size:10.6px;font-weight:400;color:#111111;transform:scaleX(1.1200);transform-origin:50% 0;">0</div>
<div class="t" style="left:542.80px;top:355.00px;width:700px;text-align:center;font-size:10.6px;font-weight:400;color:#111111;transform:scaleX(1.1200);transform-origin:50% 0;">0,00</div>
<div class="t" style="left:14.30px;top:372.00px;width:700px;text-align:left;font-size:10.6px;font-weight:400;color:#111111;transform:scaleX(1.0350);transform-origin:0 0;">Santa Casa Santa Rosa de Viterbo</div>
<div class="t" style="left:-101.88px;top:372.00px;width:700px;text-align:center;font-size:10.6px;font-weight:400;color:#111111;transform:scaleX(1.1200);transform-origin:50% 0;">3</div>
<div class="t" style="left:-30.07px;top:372.00px;width:700px;text-align:center;font-size:10.6px;font-weight:400;color:#111111;transform:scaleX(1.1200);transform-origin:50% 0;">0</div>
<div class="t" style="left:62.95px;top:372.00px;width:700px;text-align:center;font-size:10.6px;font-weight:400;color:#111111;transform:scaleX(1.1200);transform-origin:50% 0;">3</div>
<div class="t" style="left:165.45px;top:372.00px;width:700px;text-align:center;font-size:10.6px;font-weight:400;color:#111111;transform:scaleX(1.1200);transform-origin:50% 0;">0</div>
<div class="t" style="left:256.35px;top:372.00px;width:700px;text-align:center;font-size:10.6px;font-weight:400;color:#111111;transform:scaleX(1.1200);transform-origin:50% 0;">100,00</div>
<div class="t" style="left:350.45px;top:372.00px;width:700px;text-align:center;font-size:10.6px;font-weight:400;color:#111111;transform:scaleX(1.1200);transform-origin:50% 0;">0</div>
<div class="t" style="left:447.45px;top:372.00px;width:700px;text-align:center;font-size:10.6px;font-weight:400;color:#111111;transform:scaleX(1.1200);transform-origin:50% 0;">0</div>
<div class="t" style="left:542.80px;top:372.00px;width:700px;text-align:center;font-size:10.6px;font-weight:400;color:#111111;transform:scaleX(1.1200);transform-origin:50% 0;">0,00</div>
<div class="t" style="left:14.30px;top:388.00px;width:700px;text-align:left;font-size:10.6px;font-weight:400;color:#111111;transform:scaleX(1.0045);transform-origin:0 0;">Santa Casa Serrana</div>
<div class="t" style="left:-101.88px;top:388.00px;width:700px;text-align:center;font-size:10.6px;font-weight:400;color:#111111;transform:scaleX(1.1200);transform-origin:50% 0;">0</div>
<div class="t" style="left:-30.07px;top:388.00px;width:700px;text-align:center;font-size:10.6px;font-weight:400;color:#111111;transform:scaleX(1.1200);transform-origin:50% 0;">0</div>
<div class="t" style="left:62.95px;top:388.00px;width:700px;text-align:center;font-size:10.6px;font-weight:400;color:#111111;transform:scaleX(1.1200);transform-origin:50% 0;">0</div>
<div class="t" style="left:165.45px;top:388.00px;width:700px;text-align:center;font-size:10.6px;font-weight:400;color:#111111;transform:scaleX(1.1200);transform-origin:50% 0;">0</div>
<div class="t" style="left:256.35px;top:388.00px;width:700px;text-align:center;font-size:10.6px;font-weight:400;color:#111111;transform:scaleX(1.1200);transform-origin:50% 0;">0,00</div>
<div class="t" style="left:350.45px;top:388.00px;width:700px;text-align:center;font-size:10.6px;font-weight:400;color:#111111;transform:scaleX(1.1200);transform-origin:50% 0;">0</div>
<div class="t" style="left:447.45px;top:388.00px;width:700px;text-align:center;font-size:10.6px;font-weight:400;color:#111111;transform:scaleX(1.1200);transform-origin:50% 0;">0</div>
<div class="t" style="left:542.80px;top:388.00px;width:700px;text-align:center;font-size:10.6px;font-weight:400;color:#111111;transform:scaleX(1.1200);transform-origin:50% 0;">0,00</div>
<div class="t" style="left:-489.80px;top:406.00px;width:700px;text-align:right;font-size:12.0px;font-weight:700;color:#111111;transform:scaleX(0.9700);transform-origin:100% 0;-webkit-text-stroke:0.15px #111111;">Subtotal</div>
<div class="t" style="left:-101.88px;top:406.00px;width:700px;text-align:center;font-size:12.0px;font-weight:700;color:#111111;transform:scaleX(0.9800);transform-origin:50% 0;-webkit-text-stroke:0.15px #111111;">111</div>
<div class="t" style="left:-30.07px;top:406.00px;width:700px;text-align:center;font-size:12.0px;font-weight:700;color:#111111;transform:scaleX(0.9800);transform-origin:50% 0;-webkit-text-stroke:0.15px #111111;">92</div>
<div class="t" style="left:62.95px;top:406.00px;width:700px;text-align:center;font-size:12.0px;font-weight:700;color:#111111;transform:scaleX(0.9800);transform-origin:50% 0;-webkit-text-stroke:0.15px #111111;">88</div>
<div class="t" style="left:165.45px;top:406.00px;width:700px;text-align:center;font-size:12.0px;font-weight:700;color:#111111;transform:scaleX(0.9800);transform-origin:50% 0;-webkit-text-stroke:0.15px #111111;">23</div>
<div class="t" style="left:256.35px;top:404.00px;width:700px;text-align:center;font-size:14.2px;font-weight:700;color:#111111;-webkit-text-stroke:0.15px #111111;">79,28</div>
<div class="t" style="left:350.45px;top:406.00px;width:700px;text-align:center;font-size:12.0px;font-weight:700;color:#111111;transform:scaleX(0.9800);transform-origin:50% 0;-webkit-text-stroke:0.15px #111111;">76</div>
<div class="t" style="left:447.45px;top:406.00px;width:700px;text-align:center;font-size:12.0px;font-weight:700;color:#111111;transform:scaleX(0.9800);transform-origin:50% 0;-webkit-text-stroke:0.15px #111111;">16</div>
<div class="t" style="left:542.80px;top:404.00px;width:700px;text-align:center;font-size:14.2px;font-weight:700;color:#111111;-webkit-text-stroke:0.15px #111111;">82,61</div>
<div class="t" style="left:14.60px;top:426.00px;width:700px;text-align:left;font-size:10.6px;font-weight:400;color:#d8f6fc;transform:scaleX(0.9464);transform-origin:0 0;-webkit-text-stroke:0.12px #d8f6fc;">HORIZONTE VERDE</div>
<div class="t" style="left:14.30px;top:443.00px;width:700px;text-align:left;font-size:10.6px;font-weight:400;color:#111111;transform:scaleX(1.0335);transform-origin:0 0;">Santa Casa Sertãozinho</div>
<div class="t" style="left:-101.88px;top:443.00px;width:700px;text-align:center;font-size:10.6px;font-weight:400;color:#111111;transform:scaleX(1.1200);transform-origin:50% 0;">7</div>
<div class="t" style="left:-30.07px;top:443.00px;width:700px;text-align:center;font-size:10.6px;font-weight:400;color:#111111;transform:scaleX(1.1200);transform-origin:50% 0;">6</div>
<div class="t" style="left:62.95px;top:443.00px;width:700px;text-align:center;font-size:10.6px;font-weight:400;color:#111111;transform:scaleX(1.1200);transform-origin:50% 0;">4</div>
<div class="t" style="left:165.45px;top:443.00px;width:700px;text-align:center;font-size:10.6px;font-weight:400;color:#111111;transform:scaleX(1.1200);transform-origin:50% 0;">3</div>
<div class="t" style="left:256.35px;top:443.00px;width:700px;text-align:center;font-size:10.6px;font-weight:400;color:#111111;transform:scaleX(1.1200);transform-origin:50% 0;">57,14</div>
<div class="t" style="left:350.45px;top:443.00px;width:700px;text-align:center;font-size:10.6px;font-weight:400;color:#111111;transform:scaleX(1.1200);transform-origin:50% 0;">4</div>
<div class="t" style="left:447.45px;top:443.00px;width:700px;text-align:center;font-size:10.6px;font-weight:400;color:#111111;transform:scaleX(1.1200);transform-origin:50% 0;">2</div>
<div class="t" style="left:542.80px;top:443.00px;width:700px;text-align:center;font-size:10.6px;font-weight:400;color:#111111;transform:scaleX(1.1200);transform-origin:50% 0;">66,67</div>
<div class="t" style="left:14.30px;top:459.00px;width:700px;text-align:left;font-size:10.6px;font-weight:400;color:#111111;transform:scaleX(1.0771);transform-origin:0 0;">Santa Casa Monte Alto</div>
<div class="t" style="left:-101.88px;top:459.00px;width:700px;text-align:center;font-size:10.6px;font-weight:400;color:#111111;transform:scaleX(1.1200);transform-origin:50% 0;">8</div>
<div class="t" style="left:-30.07px;top:459.00px;width:700px;text-align:center;font-size:10.6px;font-weight:400;color:#111111;transform:scaleX(1.1200);transform-origin:50% 0;">5</div>
<div class="t" style="left:62.95px;top:459.00px;width:700px;text-align:center;font-size:10.6px;font-weight:400;color:#111111;transform:scaleX(1.1200);transform-origin:50% 0;">7</div>
<div class="t" style="left:165.45px;top:459.00px;width:700px;text-align:center;font-size:10.6px;font-weight:400;color:#111111;transform:scaleX(1.1200);transform-origin:50% 0;">1</div>
<div class="t" style="left:256.35px;top:459.00px;width:700px;text-align:center;font-size:10.6px;font-weight:400;color:#111111;transform:scaleX(1.1200);transform-origin:50% 0;">87,50</div>
<div class="t" style="left:350.45px;top:459.00px;width:700px;text-align:center;font-size:10.6px;font-weight:400;color:#111111;transform:scaleX(1.1200);transform-origin:50% 0;">1</div>
<div class="t" style="left:447.45px;top:459.00px;width:700px;text-align:center;font-size:10.6px;font-weight:400;color:#111111;transform:scaleX(1.1200);transform-origin:50% 0;">4</div>
<div class="t" style="left:542.80px;top:459.00px;width:700px;text-align:center;font-size:10.6px;font-weight:400;color:#111111;transform:scaleX(1.1200);transform-origin:50% 0;">20,00</div>
<div class="t" style="left:14.30px;top:475.00px;width:700px;text-align:left;font-size:10.6px;font-weight:400;color:#111111;transform:scaleX(1.0295);transform-origin:0 0;">Santa Casa de Guariba</div>
<div class="t" style="left:-101.88px;top:475.00px;width:700px;text-align:center;font-size:10.6px;font-weight:400;color:#111111;transform:scaleX(1.1200);transform-origin:50% 0;">8</div>
<div class="t" style="left:-30.07px;top:475.00px;width:700px;text-align:center;font-size:10.6px;font-weight:400;color:#111111;transform:scaleX(1.1200);transform-origin:50% 0;">0</div>
<div class="t" style="left:62.95px;top:475.00px;width:700px;text-align:center;font-size:10.6px;font-weight:400;color:#111111;transform:scaleX(1.1200);transform-origin:50% 0;">3</div>
<div class="t" style="left:165.45px;top:475.00px;width:700px;text-align:center;font-size:10.6px;font-weight:400;color:#111111;transform:scaleX(1.1200);transform-origin:50% 0;">5</div>
<div class="t" style="left:256.35px;top:475.00px;width:700px;text-align:center;font-size:10.6px;font-weight:400;color:#111111;transform:scaleX(1.1200);transform-origin:50% 0;">37,50</div>
<div class="t" style="left:350.45px;top:475.00px;width:700px;text-align:center;font-size:10.6px;font-weight:400;color:#111111;transform:scaleX(1.1200);transform-origin:50% 0;">0</div>
<div class="t" style="left:447.45px;top:475.00px;width:700px;text-align:center;font-size:10.6px;font-weight:400;color:#111111;transform:scaleX(1.1200);transform-origin:50% 0;">0</div>
<div class="t" style="left:542.80px;top:475.00px;width:700px;text-align:center;font-size:10.6px;font-weight:400;color:#111111;transform:scaleX(1.1200);transform-origin:50% 0;">0,00</div>
<div class="t" style="left:14.30px;top:492.00px;width:700px;text-align:left;font-size:10.6px;font-weight:400;color:#111111;transform:scaleX(1.0349);transform-origin:0 0;">Santa Casa de Pitangueiras</div>
<div class="t" style="left:-101.88px;top:492.00px;width:700px;text-align:center;font-size:10.6px;font-weight:400;color:#111111;transform:scaleX(1.1200);transform-origin:50% 0;">2</div>
<div class="t" style="left:-30.07px;top:492.00px;width:700px;text-align:center;font-size:10.6px;font-weight:400;color:#111111;transform:scaleX(1.1200);transform-origin:50% 0;">0</div>
<div class="t" style="left:62.95px;top:492.00px;width:700px;text-align:center;font-size:10.6px;font-weight:400;color:#111111;transform:scaleX(1.1200);transform-origin:50% 0;">6</div>
<div class="t" style="left:165.45px;top:492.00px;width:700px;text-align:center;font-size:10.6px;font-weight:400;color:#111111;transform:scaleX(1.1200);transform-origin:50% 0;">-4</div>
<div class="t" style="left:256.35px;top:492.00px;width:700px;text-align:center;font-size:10.6px;font-weight:400;color:#111111;transform:scaleX(1.1200);transform-origin:50% 0;">300,00</div>
<div class="t" style="left:350.45px;top:492.00px;width:700px;text-align:center;font-size:10.6px;font-weight:400;color:#111111;transform:scaleX(1.1200);transform-origin:50% 0;">0</div>
<div class="t" style="left:447.45px;top:492.00px;width:700px;text-align:center;font-size:10.6px;font-weight:400;color:#111111;transform:scaleX(1.1200);transform-origin:50% 0;">0</div>
<div class="t" style="left:542.80px;top:492.00px;width:700px;text-align:center;font-size:10.6px;font-weight:400;color:#111111;transform:scaleX(1.1200);transform-origin:50% 0;">0,00</div>
<div class="t" style="left:14.30px;top:508.00px;width:700px;text-align:left;font-size:10.6px;font-weight:400;color:#111111;transform:scaleX(1.0384);transform-origin:0 0;">Santa Casa de Pontal</div>
<div class="t" style="left:-101.88px;top:508.00px;width:700px;text-align:center;font-size:10.6px;font-weight:400;color:#111111;transform:scaleX(1.1200);transform-origin:50% 0;">7</div>
<div class="t" style="left:-30.07px;top:508.00px;width:700px;text-align:center;font-size:10.6px;font-weight:400;color:#111111;transform:scaleX(1.1200);transform-origin:50% 0;">0</div>
<div class="t" style="left:62.95px;top:508.00px;width:700px;text-align:center;font-size:10.6px;font-weight:400;color:#111111;transform:scaleX(1.1200);transform-origin:50% 0;">4</div>
<div class="t" style="left:165.45px;top:508.00px;width:700px;text-align:center;font-size:10.6px;font-weight:400;color:#111111;transform:scaleX(1.1200);transform-origin:50% 0;">3</div>
<div class="t" style="left:256.35px;top:508.00px;width:700px;text-align:center;font-size:10.6px;font-weight:400;color:#111111;transform:scaleX(1.1200);transform-origin:50% 0;">57,14</div>
<div class="t" style="left:350.45px;top:508.00px;width:700px;text-align:center;font-size:10.6px;font-weight:400;color:#111111;transform:scaleX(1.1200);transform-origin:50% 0;">0</div>
<div class="t" style="left:447.45px;top:508.00px;width:700px;text-align:center;font-size:10.6px;font-weight:400;color:#111111;transform:scaleX(1.1200);transform-origin:50% 0;">0</div>
<div class="t" style="left:542.80px;top:508.00px;width:700px;text-align:center;font-size:10.6px;font-weight:400;color:#111111;transform:scaleX(1.1200);transform-origin:50% 0;">0,00</div>
<div class="t" style="left:14.30px;top:525.00px;width:700px;text-align:left;font-size:10.6px;font-weight:400;color:#111111;transform:scaleX(1.0297);transform-origin:0 0;">Santa Casa de Jaboticabal</div>
<div class="t" style="left:-101.88px;top:525.00px;width:700px;text-align:center;font-size:10.6px;font-weight:400;color:#111111;transform:scaleX(1.1200);transform-origin:50% 0;">6</div>
<div class="t" style="left:-30.07px;top:525.00px;width:700px;text-align:center;font-size:10.6px;font-weight:400;color:#111111;transform:scaleX(1.1200);transform-origin:50% 0;">7</div>
<div class="t" style="left:62.95px;top:525.00px;width:700px;text-align:center;font-size:10.6px;font-weight:400;color:#111111;transform:scaleX(1.1200);transform-origin:50% 0;">2</div>
<div class="t" style="left:165.45px;top:525.00px;width:700px;text-align:center;font-size:10.6px;font-weight:400;color:#111111;transform:scaleX(1.1200);transform-origin:50% 0;">4</div>
<div class="t" style="left:256.35px;top:525.00px;width:700px;text-align:center;font-size:10.6px;font-weight:400;color:#111111;transform:scaleX(1.1200);transform-origin:50% 0;">33,33</div>
<div class="t" style="left:350.45px;top:525.00px;width:700px;text-align:center;font-size:10.6px;font-weight:400;color:#111111;transform:scaleX(1.1200);transform-origin:50% 0;">5</div>
<div class="t" style="left:447.45px;top:525.00px;width:700px;text-align:center;font-size:10.6px;font-weight:400;color:#111111;transform:scaleX(1.1200);transform-origin:50% 0;">2</div>
<div class="t" style="left:542.80px;top:525.00px;width:700px;text-align:center;font-size:10.6px;font-weight:400;color:#111111;transform:scaleX(1.1200);transform-origin:50% 0;">71,43</div>
<div class="t" style="left:-489.80px;top:543.00px;width:700px;text-align:right;font-size:12.0px;font-weight:700;color:#111111;transform:scaleX(0.9700);transform-origin:100% 0;-webkit-text-stroke:0.15px #111111;">Subtotal</div>
<div class="t" style="left:-101.88px;top:543.00px;width:700px;text-align:center;font-size:12.0px;font-weight:700;color:#111111;transform:scaleX(0.9800);transform-origin:50% 0;-webkit-text-stroke:0.15px #111111;">38</div>
<div class="t" style="left:-30.07px;top:543.00px;width:700px;text-align:center;font-size:12.0px;font-weight:700;color:#111111;transform:scaleX(0.9800);transform-origin:50% 0;-webkit-text-stroke:0.15px #111111;">18</div>
<div class="t" style="left:62.95px;top:543.00px;width:700px;text-align:center;font-size:12.0px;font-weight:700;color:#111111;transform:scaleX(0.9800);transform-origin:50% 0;-webkit-text-stroke:0.15px #111111;">26</div>
<div class="t" style="left:165.45px;top:543.00px;width:700px;text-align:center;font-size:12.0px;font-weight:700;color:#111111;transform:scaleX(0.9800);transform-origin:50% 0;-webkit-text-stroke:0.15px #111111;">12</div>
<div class="t" style="left:256.35px;top:541.00px;width:700px;text-align:center;font-size:14.2px;font-weight:700;color:#111111;-webkit-text-stroke:0.15px #111111;">68,42</div>
<div class="t" style="left:350.45px;top:543.00px;width:700px;text-align:center;font-size:12.0px;font-weight:700;color:#111111;transform:scaleX(0.9800);transform-origin:50% 0;-webkit-text-stroke:0.15px #111111;">10</div>
<div class="t" style="left:447.45px;top:543.00px;width:700px;text-align:center;font-size:12.0px;font-weight:700;color:#111111;transform:scaleX(0.9800);transform-origin:50% 0;-webkit-text-stroke:0.15px #111111;">8</div>
<div class="t" style="left:542.80px;top:541.00px;width:700px;text-align:center;font-size:14.2px;font-weight:700;color:#111111;-webkit-text-stroke:0.15px #111111;">55,56</div>
<div class="t" style="left:-489.60px;top:568.00px;width:700px;text-align:right;font-size:13.2px;font-weight:700;color:#000000;transform:scaleX(0.9757);transform-origin:100% 0;-webkit-text-stroke:0.15px #000000;">TOTAL REGIONAL</div>
<div class="t" style="left:-101.70px;top:563.00px;width:700px;text-align:center;font-size:22.6px;font-weight:700;color:#000000;transform:scaleX(0.9944);transform-origin:50% 0;-webkit-text-stroke:0.15px #000000;">171</div>
<div class="t" style="left:-30.60px;top:563.00px;width:700px;text-align:center;font-size:22.6px;font-weight:700;color:#000000;transform:scaleX(1.0263);transform-origin:50% 0;-webkit-text-stroke:0.15px #000000;">117</div>
<div class="t" style="left:62.08px;top:568.00px;width:700px;text-align:center;font-size:14.0px;font-weight:700;color:#000000;transform:scaleX(1.0373);transform-origin:50% 0;-webkit-text-stroke:0.15px #000000;">124</div>
<div class="t" style="left:165.45px;top:568.00px;width:700px;text-align:center;font-size:14.0px;font-weight:700;color:#000000;transform:scaleX(0.9700);transform-origin:50% 0;-webkit-text-stroke:0.15px #000000;">47</div>
<div class="t" style="left:255.83px;top:563.00px;width:700px;text-align:center;font-size:22.6px;font-weight:700;color:#000000;transform:scaleX(0.9959);transform-origin:50% 0;-webkit-text-stroke:0.15px #000000;">72,51</div>
<div class="t" style="left:350.45px;top:568.00px;width:700px;text-align:center;font-size:14.0px;font-weight:700;color:#000000;transform:scaleX(0.9700);transform-origin:50% 0;-webkit-text-stroke:0.15px #000000;">88</div>
<div class="t" style="left:447.45px;top:568.00px;width:700px;text-align:center;font-size:14.0px;font-weight:700;color:#000000;transform:scaleX(0.9700);transform-origin:50% 0;-webkit-text-stroke:0.15px #000000;">29</div>
<div class="t" style="left:542.80px;top:563.00px;width:700px;text-align:center;font-size:22.6px;font-weight:700;color:#000000;transform:scaleX(0.9500);transform-origin:50% 0;-webkit-text-stroke:0.15px #000000;">75,21</div>
<div class="t" style="left:15.20px;top:616.00px;width:700px;text-align:left;font-size:13.6px;font-weight:700;color:#000000;-webkit-text-stroke:0.15px #000000;">Fonte</div>
<div class="t" style="left:56.96px;top:616.00px;width:700px;text-align:left;font-size:13.6px;font-weight:700;color:#000000;transform:scaleX(0.8515);transform-origin:0 0;-webkit-text-stroke:0.15px #000000;">:</div>
<div class="t" style="left:64.16px;top:616.00px;width:700px;text-align:left;font-size:13.6px;font-weight:700;color:#000000;transform:scaleX(1.0108);transform-origin:0 0;-webkit-text-stroke:0.15px #000000;">censocovid19.saude.sp.gov.br/login</div>
</div></body></html>
